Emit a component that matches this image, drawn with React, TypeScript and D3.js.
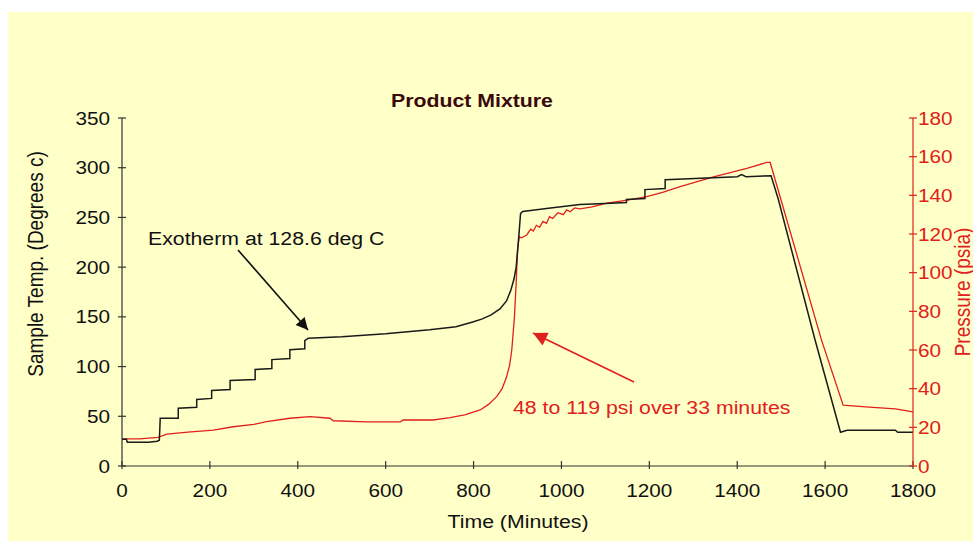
import React from "react";
import * as d3 from "d3";

// ---- data ----
const tempTime = [0, 10, 12, 60, 80, 85, 87, 128, 128, 170, 170, 204, 204, 246, 246, 303, 303, 341, 341, 382, 382, 416, 416, 424, 500, 600, 700, 760, 800, 820, 840, 860, 875, 885, 892, 897, 900, 904, 907, 912, 966, 1042, 1100, 1148, 1148, 1190, 1190, 1236, 1236, 1400, 1410, 1420, 1477, 1493, 1577, 1635, 1650, 1760, 1765, 1800];
const tempValue = [27, 27, 24, 24, 25, 26, 48, 48, 58, 59, 67, 68, 76, 77, 86, 87, 97, 98, 107, 108, 117, 118, 126, 128.6, 130, 133, 137, 140, 145, 148, 152, 158, 166, 177, 188, 200, 215, 237, 254, 256, 259, 263, 264, 265, 268, 269, 278, 279, 288, 291, 293, 291, 292, 269, 127, 34, 36, 36, 34, 34];

const pressTime = [0, 40, 82, 102, 150, 208, 253, 300, 329, 382, 428, 473, 481, 557, 633, 640, 708, 746, 780, 815, 835, 853, 865, 875, 882, 887, 893, 897, 900, 904, 909, 921, 930, 936, 943, 950, 958, 966, 973, 980, 992, 1004, 1012, 1020, 1030, 1042, 1070, 1103, 1150, 1194, 1230, 1270, 1346, 1422, 1467, 1475, 1592, 1641, 1700, 1760, 1800];
const pressValue = [14, 14, 14.8, 16.5, 17.5, 18.6, 20.3, 21.5, 22.9, 24.7, 25.5, 24.7, 23.4, 22.8, 22.8, 23.8, 23.8, 25, 26.5, 29, 32, 36, 40, 46, 52, 60, 77, 94.5, 111.7, 118.6, 118, 119.5, 122.5, 121.5, 124.5, 123.5, 126.5, 125.5, 129, 128, 131, 130, 132.5, 131.5, 133.5, 133, 134, 136, 137.5, 139.3, 141.5, 144.5, 149.6, 154, 157, 157, 65, 31.5, 30.5, 29.5, 28];

const xTicks = [0, 200, 400, 600, 800, 1000, 1200, 1400, 1600, 1800];
const leftTicks = [0, 50, 100, 150, 200, 250, 300, 350];
const rightTicks = [0, 20, 40, 60, 80, 100, 120, 140, 160, 180];

const title = "Product Mixture";
const xTitle = "Time (Minutes)";
const leftTitle = "Sample Temp. (Degrees c)";
const rightTitle = "Pressure (psia)";
const note1 = "Exotherm at 128.6 deg C";
const note2 = "48 to 119 psi over 33 minutes";

const W = 973;
const H = 541;
const FONT = "'Liberation Sans', Arial, Helvetica, sans-serif";
const SX = 1.12;
const RED = "#e0201c";
const BG = "#ffffc8";

function T(props: any) {
  const { x, y, anchor = "start", size = 19, fill = "#111", weight = "normal", rotate, dy, children } = props;
  const tr = `translate(${x},${y}) scale(${SX},1)` + (rotate ? ` rotate(${rotate})` : "");
  return (
    <text transform={tr} textAnchor={anchor} fontSize={size} fill={fill} fontWeight={weight} fontFamily={FONT} dy={dy}>
      {children}
    </text>
  );
}

export default function App() {
  const x = d3.scaleLinear().domain([0, 1800]).range([122, 913]);
  const yL = d3.scaleLinear().domain([0, 350]).range([466, 118]);
  const yR = d3.scaleLinear().domain([0, 180]).range([466, 118]);

  const tempPts: [number, number][] = tempTime.map((t, i) => [t, tempValue[i]]);
  const pressPts: [number, number][] = pressTime.map((t, i) => [t, pressValue[i]]);

  const tempLine = d3.line<[number, number]>().x((d) => x(d[0])).y((d) => yL(d[1]));
  const pressLine = d3.line<[number, number]>().x((d) => x(d[0])).y((d) => yR(d[1]));

  const x0 = x(0), x1 = x(1800), y0 = yL(0), yTop = yL(350);

  return (
    <div style={{ position: "fixed", left: 0, top: 0, width: W, height: H, background: "#fff" }}>
      <svg width={W} height={H} style={{ display: "block" }}>
        <defs>
          <marker id="ab" viewBox="0 0 10 10" refX="10" refY="5" markerWidth="18" markerHeight="12" markerUnits="userSpaceOnUse" orient="auto">
            <path d="M0,0 L10,5 L0,10 Z" fill="#111" />
          </marker>
          <marker id="ar" viewBox="0 0 10 10" refX="10" refY="5" markerWidth="20" markerHeight="14" markerUnits="userSpaceOnUse" orient="auto">
            <path d="M0,0 L10,5 L0,10 Z" fill={RED} />
          </marker>
        </defs>
        <rect x={8} y={12} width={W - 8} height={H - 12} fill={BG} />

        {/* data lines */}
        <path d={pressLine(pressPts) || ""} fill="none" stroke={RED} strokeWidth={1.3} />
        <path d={tempLine(tempPts) || ""} fill="none" stroke="#1a1a1a" strokeWidth={1.5} />

        {/* x axis */}
        <line x1={x0} x2={x1} y1={y0} y2={y0} stroke="#333" strokeWidth={1.2} />
        {xTicks.map((t) => (
          <g key={"xt" + t}>
            <line x1={x(t)} x2={x(t)} y1={y0 - 5} y2={y0 + 3} stroke="#333" strokeWidth={1.2} />
            <T x={x(t)} y={497} anchor="middle" size={18.5}>{String(t)}</T>
          </g>
        ))}

        {/* left axis */}
        <line x1={x0} x2={x0} y1={yTop} y2={y0} stroke="#333" strokeWidth={1.2} />
        {leftTicks.map((v) => (
          <g key={"lt" + v}>
            <line x1={x0 - 4} x2={x0 + 4} y1={yL(v)} y2={yL(v)} stroke="#333" strokeWidth={1.2} />
            <T x={110} y={yL(v) + 6.5} anchor="end" size={18.5}>{String(v)}</T>
          </g>
        ))}

        {/* right axis */}
        <line x1={x1} x2={x1} y1={yTop} y2={y0} stroke={RED} strokeWidth={1.2} />
        {rightTicks.map((v) => (
          <g key={"rt" + v}>
            <line x1={x1 - 4} x2={x1 + 4} y1={yR(v)} y2={yR(v)} stroke={RED} strokeWidth={1.2} />
            <T x={918} y={yR(v) + 6.5} anchor="start" size={18.5} fill={RED}>{String(v)}</T>
          </g>
        ))}

        {/* titles */}
        <T x={472} y={107} anchor="middle" size={19} weight="bold" fill="#3a0a0a">{title}</T>
        <T x={518} y={528} anchor="middle" size={19}>{xTitle}</T>
        <T x={43} y={264} anchor="middle" size={19} rotate={-90}>{leftTitle}</T>
        <T x={970} y={292} anchor="middle" size={19} rotate={-90} fill={RED}>{rightTitle}</T>

        {/* annotations */}
        <T x={148} y={245} size={19}>{note1}</T>
        <line x1={238} y1={250} x2={308} y2={330} stroke="#111" strokeWidth={1.6} markerEnd="url(#ab)" />
        <T x={513} y={414} size={19} fill={RED}>{note2}</T>
        <line x1={634} y1={382} x2={533} y2={333} stroke={RED} strokeWidth={1.6} markerEnd="url(#ar)" />
      </svg>
    </div>
  );
}
